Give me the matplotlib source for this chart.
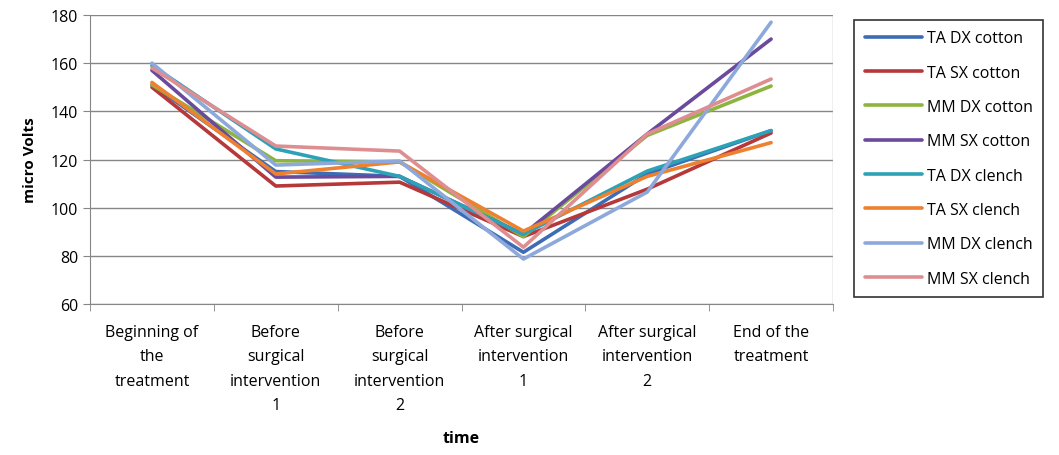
import numpy as np
import matplotlib.pyplot as plt

plt.rcParams['font.family'] = ['Open Sans', 'DejaVu Sans']

categories = ['Beginning of\nthe\ntreatment', 'Before\nsurgical\nintervention\n1',
              'Before\nsurgical\nintervention\n2', 'After surgical\nintervention\n1',
              'After surgical\nintervention\n2', 'End of the\ntreatment']

ta_dx_cotton = [151, 115, 113, 81.5, 114, 132]
ta_sx_cotton = [150, 109, 110.6, 88, 107.7, 131]
mm_dx_cotton = [151, 119.5, 119, 88, 130, 150.5]
mm_sx_cotton = [157, 112.7, 113, 89, 130.6, 170]
ta_dx_clench = [159, 124.4, 113, 89, 115.2, 132]
ta_sx_clench = [152, 114, 119, 90.3, 113, 127]
mm_dx_clench = [160, 117.7, 119.4, 78.7, 106.5, 177]
mm_sx_clench = [158, 125.6, 123.5, 83.6, 130.6, 153.4]

series = [
    ('TA DX cotton', ta_dx_cotton, '#3D6CB5'),
    ('TA SX cotton', ta_sx_cotton, '#B5383A'),
    ('MM DX cotton', mm_dx_cotton, '#8DB43E'),
    ('MM SX cotton', mm_sx_cotton, '#6A4A9C'),
    ('TA DX clench', ta_dx_clench, '#2DA1B6'),
    ('TA SX clench', ta_sx_clench, '#EE8130'),
    ('MM DX clench', mm_dx_clench, '#8DA9DB'),
    ('MM SX clench', mm_sx_clench, '#DE8E90'),
]

fig = plt.figure(figsize=(10.59, 4.56), dpi=100)
ax = fig.add_axes([0.085, 0.331, 0.7016, 0.634])

x = np.arange(len(categories))
for name, vals, col in series:
    ax.plot(x, vals, color=col, lw=2.6, label=name, solid_capstyle='round')

ax.set_xlim(-0.5, len(categories) - 0.5)
ax.set_ylim(60, 180)
ax.set_yticks(np.arange(60, 181, 20))
ax.set_xticks(x)
ax.set_xticklabels(categories, fontsize=11.5, linespacing=1.72)
ax.set_xticks(np.arange(-0.5, len(categories), 1), minor=True)
ax.tick_params(axis='x', which='major', length=0, pad=14)
ax.tick_params(axis='x', which='minor', length=5, color='#868686')
ax.tick_params(axis='y', length=5, color='#868686', labelsize=11.5)
ax.yaxis.grid(True, color='#868686', lw=1)
ax.set_axisbelow(True)
for s in ['left', 'bottom']:
    ax.spines[s].set_color('#868686')
for s in ['top', 'right']:
    ax.spines[s].set_visible(False)
ax.axvline(len(categories) - 0.5, color='#b0b0b0', lw=1)

ax.set_ylabel('micro Volts', fontsize=11, fontweight='bold', labelpad=10)
ax.set_xlabel('time', fontsize=11.5, fontweight='bold', labelpad=12)

leg = fig.legend(loc='upper left', bbox_to_anchor=(0.799, 0.972), fontsize=11.5,
                 frameon=True, fancybox=False, edgecolor='black', handlelength=3.6,
                 handletextpad=0.3, labelspacing=1.15, borderpad=0.65)
leg.get_frame().set_linewidth(1.2)

fig.savefig('out.png', dpi=100)
